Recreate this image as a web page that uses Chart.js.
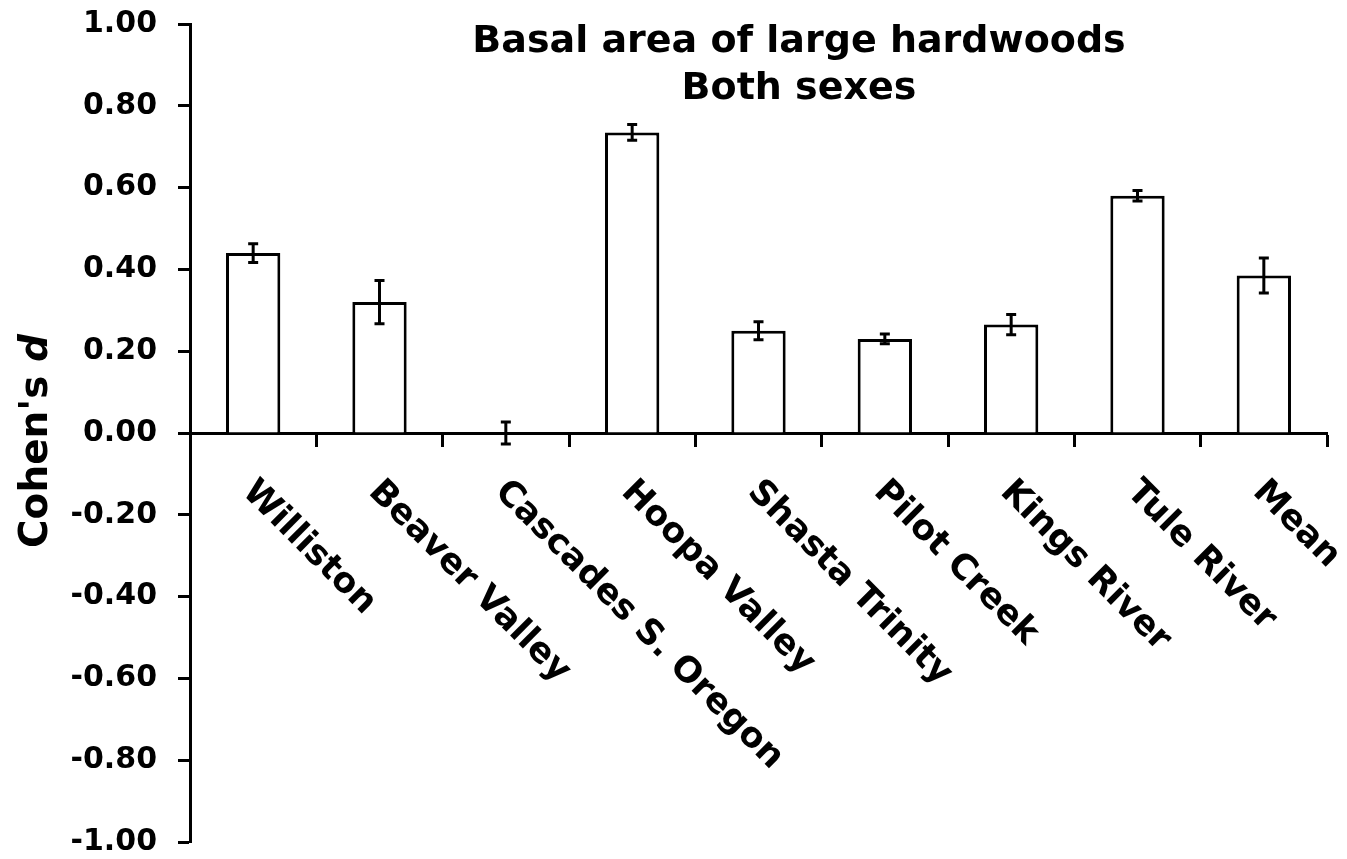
<!DOCTYPE html>
<html>
<head>
<meta charset="utf-8">
<script src="https://cdn.jsdelivr.net/npm/chart.js@4.4.1/dist/chart.umd.min.js"></script>
<style>
  html, body { margin: 0; padding: 0; background: #ffffff; }
  #c { display: block; }
</style>
</head>
<body>
<canvas id="c" width="1347" height="859"></canvas>
<script>
// ---- data ----
const categories = ['Williston', 'Beaver Valley', 'Cascades S. Oregon', 'Hoopa Valley', 'Shasta Trinity', 'Pilot Creek', 'Kings River', 'Tule River', 'Mean'];
const values = [0.44, 0.32, 0.00, 0.735, 0.25, 0.23, 0.265, 0.58, 0.385];
const errors = [0.023, 0.053, 0.027, 0.019, 0.022, 0.012, 0.025, 0.013, 0.043];
const titleLines = ['Basal area of large hardwoods', 'Both sexes'];
const yTitleMain = "Cohen's ";
const yTitleItalic = 'd';
const yMin = -1, yMax = 1, yStep = 0.2;

const FONT = '"DejaVu Sans", "Liberation Sans", Arial, sans-serif';

const overlay = {
  id: 'overlay',
  afterDatasetsDraw(chart) {
    const ctx = chart.ctx;
    const xs = chart.scales.x, ys = chart.scales.y;
    ctx.save();
    ctx.strokeStyle = '#000';
    ctx.lineWidth = 3;
    ctx.lineCap = 'butt';
    values.forEach((v, i) => {
      const e = errors[i];
      const x = xs.getPixelForValue(i);
      const yt = ys.getPixelForValue(v + e);
      const yb = ys.getPixelForValue(v - e);
      ctx.beginPath();
      ctx.moveTo(x, yt); ctx.lineTo(x, yb);
      ctx.moveTo(x - 5, yt); ctx.lineTo(x + 5, yt);
      ctx.moveTo(x - 5, yb); ctx.lineTo(x + 5, yb);
      ctx.stroke();
    });
    ctx.restore();
  },
  afterDraw(chart) {
    const ctx = chart.ctx;
    const xs = chart.scales.x, ys = chart.scales.y;
    const y0 = ys.getPixelForValue(0);
    ctx.save();
    ctx.fillStyle = '#000';
    // category labels, rotated clockwise
    ctx.font = 'bold 35px ' + FONT;
    ctx.textAlign = 'left';
    ctx.textBaseline = 'alphabetic';
    categories.forEach((c, i) => {
      const x = xs.getPixelForValue(i);
      ctx.save();
      ctx.translate(x - 12, y0 + 60);
      ctx.rotate(45 * Math.PI / 180);
      ctx.fillText(c, 0, 0);
      ctx.restore();
    });
    // chart title
    ctx.font = 'bold 38px ' + FONT;
    ctx.textAlign = 'center';
    ctx.fillText(titleLines[0], 799, 52);
    ctx.fillText(titleLines[1], 799, 99);
    // y axis title with italic d
    const fMain = 'bold 39px ' + FONT;
    const fIt = 'italic bold 39px ' + FONT;
    ctx.font = fMain; const w1 = ctx.measureText(yTitleMain).width;
    ctx.font = fIt; const w2 = ctx.measureText(yTitleItalic).width;
    ctx.save();
    ctx.translate(47, 441);
    ctx.rotate(-Math.PI / 2);
    ctx.textAlign = 'left';
    const start = -(w1 + w2) / 2;
    ctx.font = fMain; ctx.fillText(yTitleMain, start, 0);
    ctx.font = fIt; ctx.fillText(yTitleItalic, start + w1, 0);
    ctx.restore();
    ctx.restore();
  }
};

const bg = {
  id: 'bg',
  beforeDraw(chart) {
    const ctx = chart.ctx;
    ctx.save();
    ctx.fillStyle = '#ffffff';
    ctx.fillRect(0, 0, chart.width, chart.height);
    ctx.restore();
  }
};

new Chart(document.getElementById('c'), {
  type: 'bar',
  data: {
    labels: categories,
    datasets: [{
      data: values,
      backgroundColor: '#ffffff',
      borderColor: '#000000',
      borderWidth: 3,
      borderSkipped: 'start',
      barPercentage: 0.43,
      categoryPercentage: 1.0
    }]
  },
  options: {
    responsive: false,
    animation: false,
    devicePixelRatio: 1,
    layout: { padding: { left: 0, right: 20, top: 24, bottom: 17 } },
    plugins: {
      legend: { display: false },
      tooltip: { enabled: false },
      title: { display: false }
    },
    scales: {
      x: {
        type: 'category',
        position: { y: 0 },
        offset: true,
        grid: {
          display: true,
          drawOnChartArea: false,
          drawTicks: true,
          tickLength: 12,
          tickWidth: 3,
          tickColor: '#000',
          offset: true
        },
        border: { display: true, color: '#000', width: 3 },
        ticks: { display: false }
      },
      y: {
        min: yMin,
        max: yMax,
        ticks: {
          stepSize: yStep,
          color: '#000',
          padding: 21,
          font: { family: FONT, weight: 'bold', size: 30 },
          callback: (v) => (Math.abs(v) < 1e-9 ? 0 : v).toFixed(2)
        },
        grid: {
          drawOnChartArea: false,
          drawTicks: true,
          tickLength: 12,
          tickWidth: 3,
          tickColor: '#000'
        },
        border: { display: true, color: '#000', width: 3 },
        afterFit: (s) => { s.width = 190; s.paddingTop = 10; s.paddingBottom = 10; }
      }
    }
  },
  plugins: [bg, overlay]
});
</script>
</body>
</html>
